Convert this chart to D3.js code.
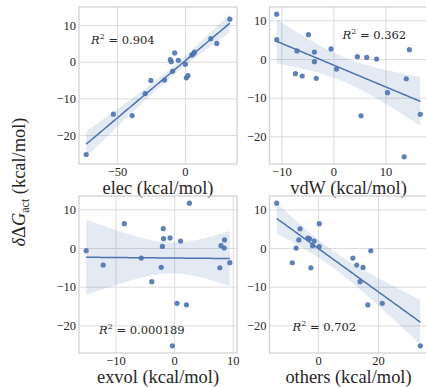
<!DOCTYPE html>
<html>
<head>
<meta charset="utf-8">
<script src="https://cdn.jsdelivr.net/npm/d3@7"></script>
<style>
  body { margin: 0; background: #fff; }
  svg { display: block; }
</style>
</head>
<body>
<svg id="fig"></svg>
<script>
"use strict";

// activation free energy change, shared by every panel (kcal/mol)
const ddG = [11.6, 6.3, 5.0, 2.6, 2.4, 2.1, 1.8, 0.6, 0.4, 0.0,
  -0.7, -2.6, -3.8, -4.4, -5.0, -5.1, -8.7, -14.3, -14.7, -25.3];

// energy components (kcal/mol), same order as ddG
const elec = [33.0, 19.0, 23.4, 7.0, -7.6, 6.0, 5.0, -10.8, -4.9, -10.1,
  0.3, -9.1, 2.2, 1.0, -15.0, -25.1, -29.3, -52.7, -38.9, -72.7];
const vdw = [-10.9, -4.8, -10.9, -0.45, 14.6, -7.0, -3.65, 4.6, 6.4, 8.3,
  -3.65, 0.6, -7.3, -6.0, -3.3, 14.0, 10.4, 16.7, 5.3, 13.6];
const exvol = [2.6, -8.5, -1.85, -0.7, -1.8, 8.6, 1.1, 8.0, -2.0, 8.55,
  -15.0, -5.6, 9.5, -12.1, -2.2, 7.8, -3.8, 0.5, 2.1, -0.3];
const others = [-13.8, 0.4, -6.0, -3.4, -2.8, -6.4, -1.3, -1.8, 0.4, -7.3,
  17.6, 11.6, -8.6, 12.9, 15.0, -2.4, 14.0, 21.4, 16.6, 34.1];

const panelNames = ['elec', 'vdW', 'exvol', 'others'];
const r2Labels = ['0.904', '0.362', '0.000189', '0.702'];
const xTickValues = [[-50, 0], [-10, 0, 10], [-10, 0, 10], [0, 20]];
const yTickValues = [-20, -10, 0, 10];

let width = 426, height = 387;
let panelW = 158, panelH = 157;
let panelPos = [[79, 7], [269.5, 7], [79, 196], [269.5, 196]];
// where the R^2 note sits inside each axes (px from top-left)
let notePos = [[12, 37], [73, 32], [20, 138], [23, 135]];

let blue = '#4C72B0';
let ink = '#262626';
let serif = '"Liberation Serif", "Times New Roman", serif';
let svg = d3.select('#fig').attr('width', width).attr('height', height);

function fmt(d) {
  return d < 0 ? '\u2212' + Math.abs(d) : String(d);
}

/* least squares fit with 95% band for the mean */
function fitLine(xs, ys) {
  let n = xs.length;
  let mx = d3.mean(xs), my = d3.mean(ys);
  let sxx = d3.sum(xs, x => (x - mx) * (x - mx));
  let sxy = d3.sum(xs, (x, i) => (x - mx) * (ys[i] - my));
  let slope = sxy / sxx;
  let icpt = my - slope * mx;
  let sse = d3.sum(xs, (x, i) => Math.pow(ys[i] - (icpt + slope * x), 2));
  let s = Math.sqrt(sse / (n - 2));
  let t = 2.101;
  let ext = d3.extent(xs);
  let grid = d3.range(100).map(i => ext[0] + (ext[1] - ext[0]) * i / 99);
  return grid.map(x => {
    let y = icpt + slope * x;
    let se = s * Math.sqrt(1 / n + (x - mx) * (x - mx) / sxx);
    return {x: x, y: y, lo: y - t * se, hi: y + t * se};
  });
}

function padded(lo, hi) {
  let m = (hi - lo) * 0.05;
  return [lo - m, hi + m];
}

let components = [elec, vdw, exvol, others];

components.forEach((xs, k) => {
  let [left, top] = panelPos[k];
  let fit = fitLine(xs, ddG);

  let xExt = d3.extent(xs);
  let yLo = Math.min(d3.min(ddG), d3.min(fit, d => d.lo));
  let yHi = Math.max(d3.max(ddG), d3.max(fit, d => d.hi));

  let xScale = d3.scaleLinear().domain(padded(xExt[0], xExt[1])).range([0, panelW]);
  let yScale = d3.scaleLinear().domain(padded(yLo, yHi)).range([panelH, 0]);

  let g = svg.append('g').attr('transform', `translate(${left},${top})`);

  /* grid */
  g.append('g')
    .call(d3.axisBottom(xScale).tickValues(xTickValues[k]).tickSize(panelH).tickFormat(''))
    .call(a => a.select('.domain').remove())
    .selectAll('line').attr('stroke', '#dcdcdc').attr('stroke-width', 1);
  g.append('g')
    .call(d3.axisLeft(yScale).tickValues(yTickValues).tickSize(-panelW).tickFormat(''))
    .call(a => a.select('.domain').remove())
    .selectAll('line').attr('stroke', '#dcdcdc').attr('stroke-width', 1);

  /* tick labels */
  let xAx = g.append('g')
    .attr('transform', `translate(0,${panelH})`)
    .call(d3.axisBottom(xScale).tickValues(xTickValues[k]).tickSize(0).tickPadding(3).tickFormat(fmt));
  xAx.select('.domain').remove();
  xAx.attr('font-family', serif).attr('font-size', 12.5);
  xAx.selectAll('text').attr('fill', ink);

  let yAx = g.append('g')
    .call(d3.axisLeft(yScale).tickValues(yTickValues).tickSize(0).tickPadding(3).tickFormat(fmt));
  yAx.select('.domain').remove();
  yAx.attr('font-family', serif).attr('font-size', 12.5);
  yAx.selectAll('text').attr('fill', ink);

  /* confidence band and regression line */
  g.append('path')
    .datum(fit)
    .attr('fill', blue)
    .attr('fill-opacity', 0.15)
    .attr('d', d3.area().x(d => xScale(d.x)).y0(d => yScale(d.lo)).y1(d => yScale(d.hi)));

  g.append('path')
    .datum(fit)
    .attr('fill', 'none')
    .attr('stroke', blue)
    .attr('stroke-width', 1.5)
    .attr('d', d3.line().x(d => xScale(d.x)).y(d => yScale(d.y)));

  /* scatter */
  g.selectAll('circle')
    .data(xs.map((x, i) => [x, ddG[i]]))
    .enter()
    .append('circle')
    .attr('cx', d => xScale(d[0]))
    .attr('cy', d => yScale(d[1]))
    .attr('r', 2.6)
    .attr('fill', blue)
    .attr('fill-opacity', 0.9);

  /* frame */
  g.append('rect')
    .attr('width', panelW).attr('height', panelH)
    .attr('fill', 'none')
    .attr('stroke', '#cfcfcf')
    .attr('stroke-width', 1.2);

  /* R^2 note */
  let note = g.append('text')
    .attr('font-family', '"DejaVu Serif", serif')
    .attr('font-size', 11.5)
    .attr('fill', ink)
    .attr('x', notePos[k][0])
    .attr('y', notePos[k][1]);
  note.append('tspan').attr('font-style', 'italic').text('R');
  note.append('tspan').attr('font-size', 8).attr('dy', -5).text('2');
  note.append('tspan').attr('dy', 5).text(' = ' + r2Labels[k]);

  /* x axis label */
  g.append('text')
    .attr('font-family', serif)
    .attr('font-size', 18.4)
    .attr('fill', ink)
    .attr('text-anchor', 'middle')
    .attr('x', panelW / 2)
    .attr('y', panelH + 30)
    .text(panelNames[k] + ' (kcal/mol)');
});

/* shared y label */
let yl = svg.append('text')
  .attr('font-family', serif)
  .attr('font-size', 18.4)
  .attr('fill', ink)
  .attr('text-anchor', 'middle')
  .attr('transform', 'translate(25,182) rotate(-90)');
yl.append('tspan').attr('font-style', 'italic').text('\u03b4');
yl.append('tspan').text('\u0394');
yl.append('tspan').attr('font-style', 'italic').text('G');
yl.append('tspan').attr('font-size', 12).attr('dy', 4).text('act');
yl.append('tspan').attr('dy', -4).text(' (kcal/mol)');
</script>
</body>
</html>
